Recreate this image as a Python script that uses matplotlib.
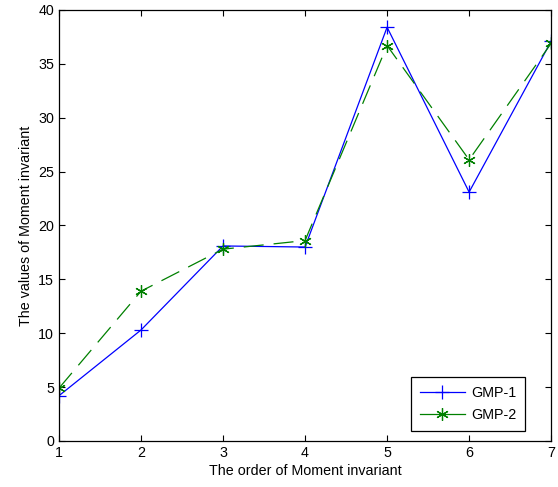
import matplotlib
matplotlib.use("Agg")
import matplotlib.pyplot as plt

plt.rcParams['font.family'] = ['Liberation Sans', 'DejaVu Sans']

orders = [1, 2, 3, 4, 5, 6, 7]
gmp1 = [4.2, 10.3, 18.1, 18.0, 38.4, 23.1, 37.1]
gmp2 = [4.9, 13.9, 17.8, 18.6, 36.7, 26.1, 36.9]

fig = plt.figure(figsize=(5.58, 4.87), dpi=100)
ax = fig.add_axes([0.1057, 0.0945, 0.882, 0.885])

ax.plot(orders, gmp1, color='#0000ff', linestyle='-', linewidth=0.9,
        marker='+', markersize=10, markeredgewidth=0.9, label='GMP-1')
ax.plot(orders, gmp2, color='#008000', linestyle=(0, (16, 8)), linewidth=0.9,
        marker=(6, 2, 0), markersize=9, markeredgewidth=0.9, label='GMP-2')

ax.set_xlim(1, 7)
ax.set_ylim(0, 40)
ax.set_xticks(orders)
ax.set_yticks(range(0, 41, 5))
ax.tick_params(direction='in', top=True, right=True, labelsize=10.3, length=4)
for s in ax.spines.values():
    s.set_linewidth(0.9)

ax.set_xlabel('The order of Moment invariant', fontsize=10.3, labelpad=3)
ax.set_ylabel('The values of Moment invariant', fontsize=10.3, labelpad=4)

leg = ax.legend(loc='lower right', bbox_to_anchor=(0.947, 0.023), borderaxespad=0,
                fancybox=False, edgecolor='black', framealpha=1,
                fontsize=10.3, handlelength=3.15, handletextpad=0.45,
                borderpad=0.6, labelspacing=0.6)
leg.get_frame().set_linewidth(0.9)
for h in leg.get_lines():
    h.set_linestyle('-')

fig.savefig('out.png', dpi=100)
